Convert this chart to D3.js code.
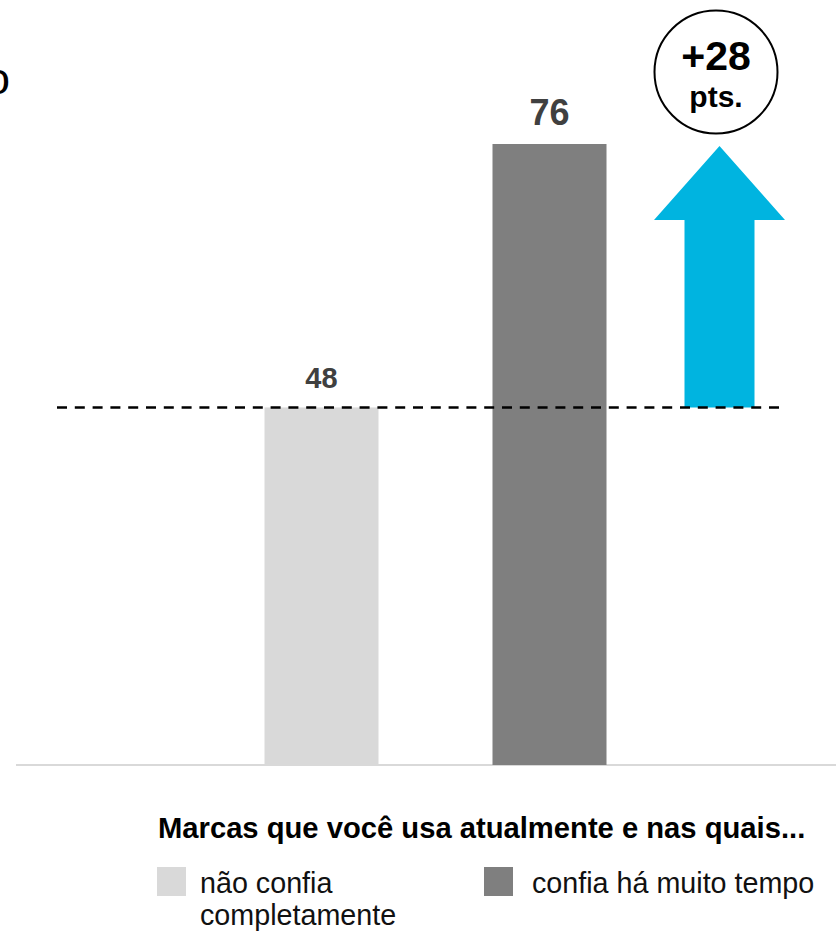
<!DOCTYPE html>
<html>
<head>
<meta charset="utf-8">
<script src="https://cdn.jsdelivr.net/npm/d3@7"></script>
<style>
  body { margin: 0; background: #fff; }
  text { font-family: "Liberation Sans", Arial, sans-serif; }
</style>
</head>
<body>
<div id="chart"></div>
<script>
var svgWidth = 836;
var svgHeight = 932;

// data
var categories = ["não confia completamente", "confia há muito tempo"];
var values = [48, 76];
var barColors = ["#d9d9d9", "#7f7f7f"];
var legendTitle = "Marcas que você usa atualmente e nas quais...";
var legendLines = [["não confia", "completamente"], ["confia há muito tempo"]];

var svg = d3.select("#chart")
  .append("svg")
  .attr("width", svgWidth)
  .attr("height", svgHeight);

// scales
var xScale = d3.scaleBand()
  .domain(categories)
  .range([207.5, 663.5])
  .paddingInner(0.5)
  .paddingOuter(0.25);

var yScale = d3.scaleLinear()
  .domain([10, 76])
  .range([765, 144]);

// clipped title remnant at top-left
svg.append("text")
  .attr("x", 10)
  .attr("y", 94)
  .attr("text-anchor", "end")
  .attr("font-size", 45)
  .attr("fill", "#000")
  .text("o");

// baseline
var bottomAxis = d3.axisBottom(xScale).tickSize(0).tickFormat("");
var axisG = svg.append("g")
  .attr("transform", `translate(0, ${yScale(10)})`)
  .call(bottomAxis);
axisG.select(".domain")
  .attr("d", "M16,0H836")
  .attr("stroke", "#d9d9d9")
  .attr("stroke-width", 2);

// bars
svg.selectAll(".bar")
  .data(values)
  .enter()
  .append("rect")
  .attr("class", "bar")
  .attr("x", (d, i) => xScale(categories[i]))
  .attr("y", d => yScale(d))
  .attr("width", xScale.bandwidth())
  .attr("height", d => yScale(10) - yScale(d))
  .attr("fill", (d, i) => barColors[i]);

// value labels
var labelSizes = [29, 36];
svg.selectAll(".val")
  .data(values)
  .enter()
  .append("text")
  .attr("class", "val")
  .attr("x", (d, i) => xScale(categories[i]) + xScale.bandwidth() / 2)
  .attr("y", d => yScale(d) - 19)
  .attr("text-anchor", "middle")
  .attr("font-weight", "bold")
  .attr("font-size", (d, i) => labelSizes[i])
  .attr("fill", "#404040")
  .text(d => d);

// arrow showing the gap
var arrowX = 719.5;
var yLow = yScale(values[0]);
var yHigh = yScale(values[1]);
var headH = 76;
svg.append("path")
  .attr("d", `M${arrowX - 35},${yLow} V${yHigh + headH} H${arrowX - 65.5} L${arrowX},${yHigh + 2} L${arrowX + 65.5},${yHigh + headH} H${arrowX + 35} V${yLow} Z`)
  .attr("fill", "#00b4e0");

// dashed reference line at the lower value
svg.append("line")
  .attr("x1", 57)
  .attr("x2", 783)
  .attr("y1", yLow)
  .attr("y2", yLow)
  .attr("stroke", "#000")
  .attr("stroke-width", 2.5)
  .attr("stroke-dasharray", "10,7.8");

// difference bubble
var diff = values[1] - values[0];
var cx = 716, cy = 72;
svg.append("circle")
  .attr("cx", cx)
  .attr("cy", cy)
  .attr("r", 61.5)
  .attr("fill", "#fff")
  .attr("stroke", "#000")
  .attr("stroke-width", 2);
svg.append("text")
  .attr("x", cx)
  .attr("y", 70)
  .attr("text-anchor", "middle")
  .attr("font-weight", "bold")
  .attr("font-size", 41)
  .text("+" + diff);
svg.append("text")
  .attr("x", cx)
  .attr("y", 107)
  .attr("text-anchor", "middle")
  .attr("font-weight", "bold")
  .attr("font-size", 30)
  .text("pts.");

// legend
svg.append("text")
  .attr("x", 158)
  .attr("y", 838)
  .attr("font-weight", "bold")
  .attr("font-size", 29.2)
  .attr("fill", "#000")
  .text(legendTitle);

var legendX = [157, 484];
var legend = svg.selectAll(".legend")
  .data(categories)
  .enter()
  .append("g")
  .attr("class", "legend")
  .attr("transform", (d, i) => `translate(${legendX[i]}, 867)`);

legend.append("rect")
  .attr("width", 29)
  .attr("height", 29)
  .attr("fill", (d, i) => barColors[i]);

legend.append("text")
  .attr("x", (d, i) => i === 0 ? 43 : 48)
  .attr("y", 26)
  .attr("font-size", 28.7)
  .attr("fill", "#111")
  .selectAll("tspan")
  .data((d, i) => legendLines[i])
  .enter()
  .append("tspan")
  .attr("x", function() { return d3.select(this.parentNode).attr("x"); })
  .attr("dy", (d, j) => j === 0 ? 0 : 32)
  .text(d => d);
</script>
</body>
</html>
